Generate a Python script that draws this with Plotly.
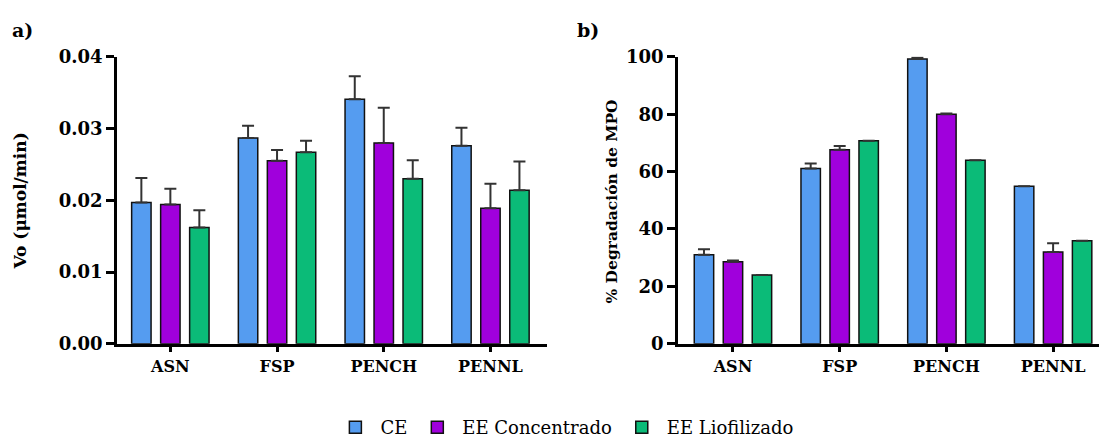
import plotly.graph_objects as go
from plotly.subplots import make_subplots

categories = ["ASN", "FSP", "PENCH", "PENNL"]
series = ["CE", "EE Concentrado", "EE Liofilizado"]
colors = ["#559CF0", "#A000DC", "#0BBB78"]

# a) Vo (umol/min)
vo_ce = [0.0197, 0.0287, 0.0341, 0.0276]
vo_ce_err = [0.0034, 0.0017, 0.0032, 0.0025]
vo_conc = [0.0194, 0.0255, 0.0280, 0.0189]
vo_conc_err = [0.0022, 0.0015, 0.0049, 0.0034]
vo_liof = [0.0162, 0.0267, 0.0230, 0.0214]
vo_liof_err = [0.0024, 0.0016, 0.0026, 0.0040]

# b) % degradacion de MPO
mpo_ce = [31.0, 61.1, 99.3, 54.9]
mpo_ce_err = [1.9, 1.7, 0.5, 0.0]
mpo_conc = [28.6, 67.6, 80.0, 32.0]
mpo_conc_err = [0.4, 1.3, 0.3, 3.0]
mpo_liof = [24.0, 70.8, 64.0, 35.9]
mpo_liof_err = [0.0, 0.0, 0.0, 0.0]

left = [(vo_ce, vo_ce_err), (vo_conc, vo_conc_err), (vo_liof, vo_liof_err)]
right = [(mpo_ce, mpo_ce_err), (mpo_conc, mpo_conc_err), (mpo_liof, mpo_liof_err)]

FONT = "DejaVu Serif"

fig = make_subplots(rows=1, cols=2)

for col, panel in [(1, left), (2, right)]:
    for i, (vals, err) in enumerate(panel):
        fig.add_trace(
            go.Bar(
                x=categories, y=vals, name=series[i],
                legendgroup=series[i], showlegend=(col == 1),
                marker=dict(color=colors[i], line=dict(color="#111111", width=1.5)),
                error_y=dict(type="data", symmetric=False, array=err,
                             arrayminus=[0] * len(err), color="#333333",
                             thickness=2, width=6, visible=True),
            ),
            row=1, col=col,
        )

H = 446
W = 1099
ydom = [(H - 344.5) / H, (H - 57) / H]

axis_common = dict(showline=True, linewidth=2.5, linecolor="black", ticks="outside",
                   tickwidth=2.5, tickcolor="black", showgrid=False, zeroline=False,
                   automargin=False,
                   tickfont=dict(family=FONT, size=16, color="black", weight="bold"))

fig.update_xaxes(**axis_common, ticklen=6)
fig.update_yaxes(**axis_common, ticklen=8)
fig.update_yaxes(tickfont=dict(size=18))

fig.update_layout(
    xaxis=dict(domain=[117 / W, 547 / W], range=[-0.5, 3.53]),
    yaxis=dict(domain=ydom, range=[0, 0.04], dtick=0.01, tickformat=".2f"),
    xaxis2=dict(domain=[678 / W, 1.0], range=[-0.515, 3.43]),
    yaxis2=dict(domain=ydom, range=[0, 100], dtick=20),
    barmode="group",
    bargap=0.185,
    bargroupgap=0.33,
    width=W, height=H,
    margin=dict(l=0, r=0, t=0, b=0),
    plot_bgcolor="white",
    paper_bgcolor="white",
    legend=dict(orientation="h", x=0.514, xanchor="center", y=0.04, yanchor="middle",
                itemwidth=40,
                font=dict(family=FONT, size=18, color="black")),
    annotations=[
        dict(text="a)", x=10 / W, y=(H - 30) / H, xref="paper", yref="paper",
             xanchor="left", yanchor="middle", showarrow=False,
             font=dict(family=FONT, size=19, color="black", weight="bold")),
        dict(text="b)", x=575 / W, y=(H - 30) / H, xref="paper", yref="paper",
             xanchor="left", yanchor="middle", showarrow=False,
             font=dict(family=FONT, size=19, color="black", weight="bold")),
        dict(text="Vo (\u03bcmol/min)", x=20 / W, y=(H - 202) / H, xref="paper", yref="paper",
             xanchor="center", yanchor="middle", textangle=-90, showarrow=False,
             font=dict(family=FONT, size=17, color="black", weight="bold")),
        dict(text="% Degradación de MPO", x=612 / W, y=(H - 202) / H, xref="paper", yref="paper",
             xanchor="center", yanchor="middle", textangle=-90, showarrow=False,
             font=dict(family=FONT, size=15.5, color="black", weight="bold")),
    ],
)

fig.write_html("out.html", config={"displayModeBar": False},
               post_script="document.body.style.margin='0';")
